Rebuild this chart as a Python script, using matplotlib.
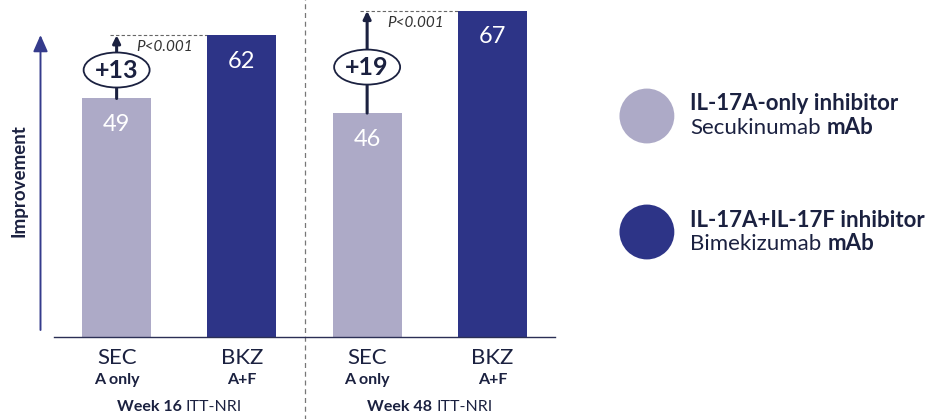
import matplotlib
matplotlib.use("Agg")
import matplotlib.pyplot as plt
import matplotlib.transforms as mtransforms
from matplotlib.patches import Ellipse, FancyArrowPatch
from matplotlib.offsetbox import TextArea, HPacker, AnnotationBbox

plt.rcParams['font.family'] = ['Lato', 'DejaVu Sans']

# data
drugs = ["SEC", "BKZ", "SEC", "BKZ"]
targets = ["A only", "A+F", "A only", "A+F"]
values = [49, 62, 46, 67]
weeks = ["Week 16", "Week 48"]
week_note = "ITT-NRI"
diff_labels = ["+13", "+19"]
p_labels = ["P<0.001", "P<0.001"]
legend_titles = ["IL-17A-only inhibitor", "IL-17A+IL-17F inhibitor"]
legend_names = ["Secukinumab", "Bimekizumab"]

light = "#adaac7"
dark = "#2d3487"
ink = "#1b2140"
bar_colors = [light, dark, light, dark]

fig = plt.figure(figsize=(9.35, 4.19), dpi=100)
ax = fig.add_axes([54 / 935, 82 / 419, 501 / 935, 331 / 419])

x = list(range(len(values)))
width = 0.55
ax.bar(x, values, width=width, color=bar_colors, zorder=2)
ax.set_xlim(-0.5, 3.5)
ax.set_ylim(0, 68)

for s in ["top", "right", "left"]:
    ax.spines[s].set_visible(False)
ax.spines["bottom"].set_color("#2b2f55")
ax.spines["bottom"].set_linewidth(1.0)
ax.set_yticks([])
ax.set_xticks([])

# value labels inside the bars
for xi, v in zip(x, values):
    ax.annotate(str(v), (xi, v), xytext=(0, -26), textcoords="offset pixels",
                ha="center", va="center", color="white", fontsize=17)

# category labels under the axis
for xi, d, t in zip(x, drugs, targets):
    ax.annotate(d, (xi, 0), xytext=(0, -21), textcoords="offset pixels",
                ha="center", va="center", color=ink, fontsize=16)
    ax.annotate(t, (xi, 0), xytext=(0, -43), textcoords="offset pixels",
                ha="center", va="center", color=ink, fontsize=11.5, fontweight="bold")

# week group labels (bold + regular on one line)
for g, wk in enumerate(weeks):
    box = HPacker(children=[
        TextArea(wk, textprops=dict(color=ink, fontsize=11.5, fontweight="bold")),
        TextArea(week_note, textprops=dict(color=ink, fontsize=11.5)),
    ], sep=3, align="baseline", pad=0)
    ab = AnnotationBbox(box, (2 * g + 0.5, 0), xybox=(0, -70), xycoords="data",
                        boxcoords="offset pixels", frameon=False,
                        box_alignment=(0.5, 0.5))
    ax.add_artist(ab)

# dashed divider between the two weeks
ax.plot([1.5, 1.5], [-0.25, 1.02], transform=ax.get_xaxis_transform(),
        color="#777777", lw=0.9, ls=(0, (4, 3)), clip_on=False)

# difference arrows, ellipses and p-values
for g in range(2):
    lo_i, hi_i = 2 * g, 2 * g + 1
    lo, hi = values[lo_i], values[hi_i]
    xa = x[lo_i]
    ax.plot([xa - 0.055, x[hi_i] - width / 2], [hi, hi], color="#666666",
            lw=0.8, ls=(0, (3, 2)), zorder=1)
    ax.annotate("", xy=(xa, hi), xytext=(xa, lo),
                arrowprops=dict(arrowstyle="-|>,head_length=0.45,head_width=0.22",
                                color=ink, lw=2.2, shrinkA=0, shrinkB=0),
                zorder=3)
    ym = lo + (hi - lo) * 0.45
    trans = fig.dpi_scale_trans + mtransforms.ScaledTranslation(xa, ym, ax.transData)
    ell = Ellipse((0, 0), width=0.66, height=0.35, transform=trans,
                  facecolor="white", edgecolor=ink, lw=1.3, zorder=4)
    ax.add_patch(ell)
    ax.text(xa, ym, diff_labels[g], ha="center", va="center", color=ink,
            fontsize=18, fontweight="bold", zorder=5)
    ax.annotate(p_labels[g], (xa, hi), xytext=(20, -12), textcoords="offset pixels",
                ha="left", va="center", color="#333333", fontsize=11,
                fontstyle="italic")

# y-axis arrow and title
fig.patches.append(FancyArrowPatch(
    (40.5 / 935, 89 / 419), (40.5 / 935, 384 / 419), transform=fig.transFigure,
    arrowstyle="-|>,head_length=0.5,head_width=0.22", mutation_scale=20,
    color="#353b8c", lw=1.4, shrinkA=0, shrinkB=0))
fig.text(19 / 935, 238 / 419, "Improvement", rotation=90, ha="center", va="center",
         color=ink, fontsize=13.5, fontweight="bold")

# legend
lax = fig.add_axes([600 / 935, 129 / 419, 335 / 935, 232 / 419])
lax.set_xlim(0, 1)
lax.set_ylim(-0.5, 1.5)
lax.axis("off")
ys = [1, 0]
lax.scatter([0.14, 0.14], ys, s=1560, color=[light, dark], linewidths=0)
for yy, title, name in zip(ys, legend_titles, legend_names):
    lax.annotate(title, (0.27, yy), xytext=(0, 12), textcoords="offset pixels",
                 ha="left", va="center", color=ink, fontsize=16, fontweight="bold")
    box = HPacker(children=[
        TextArea(name, textprops=dict(color=ink, fontsize=16)),
        TextArea("mAb", textprops=dict(color=ink, fontsize=16, fontweight="bold")),
    ], sep=4, align="baseline", pad=0)
    ab = AnnotationBbox(box, (0.27, yy), xybox=(0, -11), xycoords="data",
                        boxcoords="offset pixels", frameon=False,
                        box_alignment=(0, 0.5))
    lax.add_artist(ab)

fig.savefig("out.png", dpi=100)
